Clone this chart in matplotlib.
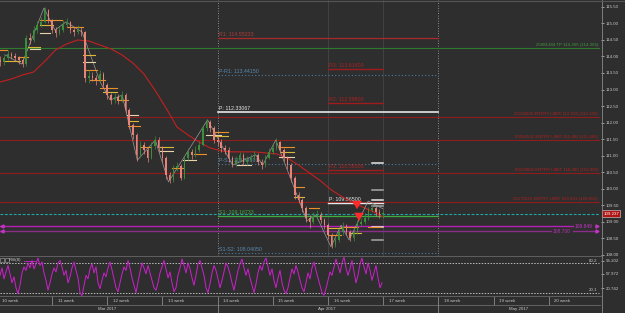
import numpy as np
import matplotlib
matplotlib.use('Agg')
import matplotlib.pyplot as plt
from matplotlib.lines import Line2D

# ---------------- data ----------------
opens = [113.90,113.83,113.95,114.08,114.02,113.95,113.89,113.77,114.56,114.50,
         114.80,114.95,115.05,115.41,115.11,114.80,114.71,114.80,114.95,115.05,
         114.80,114.74,114.80,114.74,113.35,113.41,113.35,113.29,113.47,113.14,
         112.83,112.68,112.77,112.68,112.83,112.38,111.92,111.62,111.02,111.32,
         111.17,110.92,111.29,111.47,111.23,110.92,110.41,110.26,110.62,110.68,
         110.32,110.92,111.11,111.02,111.17,111.32,111.83,112.02,111.83,111.47,
         111.41,111.23,111.17,110.92,110.74,110.86,111.02,110.80,110.86,110.92,
         111.02,110.80,110.71,110.92,111.11,111.23,111.41,111.17,110.92,110.71,
         110.32,109.80,109.65,109.41,109.11,108.99,109.17,109.20,109.05,108.89,
         108.59,108.29,108.44,108.68,108.86,108.68,108.50,108.68,108.93,108.99,
         109.11,109.35,109.41,109.29,109.23]
closes = [113.83,113.95,114.08,114.02,113.95,113.89,113.77,114.56,114.50,114.80,
          114.95,115.05,115.41,115.11,114.80,114.71,114.80,114.95,115.05,114.80,
          114.74,114.80,114.74,113.35,113.41,113.35,113.29,113.47,113.14,112.83,
          112.68,112.77,112.68,112.83,112.38,111.92,111.62,111.02,111.32,111.17,
          110.92,111.29,111.47,111.23,110.92,110.41,110.26,110.62,110.68,110.32,
          110.92,111.11,111.02,111.17,111.32,111.83,112.02,111.83,111.47,111.41,
          111.23,111.17,110.92,110.74,110.86,111.02,110.80,110.86,110.92,111.02,
          110.80,110.71,110.92,111.11,111.23,111.41,111.17,110.92,110.71,110.32,
          109.80,109.65,109.41,109.11,108.99,109.17,109.20,109.05,108.89,108.59,
          108.29,108.44,108.68,108.86,108.68,108.50,108.68,108.93,108.99,109.11,
          109.35,109.41,109.29,109.23,109.24]
highs = [114.00,114.05,114.20,114.15,114.10,114.02,113.95,114.65,114.70,114.92,
         115.08,115.20,115.50,115.45,115.15,114.90,114.92,115.10,115.18,115.08,
         114.90,114.95,114.88,114.78,113.58,113.52,113.45,113.60,113.52,113.20,
         112.90,112.88,112.85,112.95,112.90,112.45,112.00,111.68,111.45,111.40,
         111.25,111.40,111.60,111.55,111.30,110.98,110.50,110.72,110.80,110.75,
         111.00,111.22,111.20,111.30,111.45,111.92,112.10,112.08,111.90,111.58,
         111.50,111.32,111.25,111.00,110.98,111.12,111.08,111.00,111.05,111.15,
         111.08,110.88,111.02,111.22,111.35,111.52,111.45,111.22,110.98,110.78,
         110.38,109.88,109.72,109.48,109.20,109.30,109.35,109.28,109.12,108.95,
         108.65,108.55,108.80,108.98,108.92,108.75,108.80,109.05,109.12,109.25,
         109.45,109.52,109.48,109.38,109.35]
lows = [113.72,113.75,113.90,113.92,113.85,113.78,113.68,113.72,114.38,114.45,
        114.72,114.88,115.00,115.02,114.70,114.60,114.65,114.75,114.90,114.70,
        114.62,114.68,114.62,113.22,113.20,113.25,113.15,113.22,113.05,112.72,
        112.55,112.60,112.55,112.62,112.28,111.80,111.50,110.82,110.95,111.05,
        110.80,110.88,111.20,111.10,110.80,110.30,110.17,110.20,110.52,110.25,
        110.28,110.85,110.90,110.95,111.10,111.28,111.75,111.70,111.38,111.30,
        111.12,111.05,110.80,110.65,110.68,110.80,110.70,110.72,110.80,110.85,
        110.70,110.60,110.65,110.88,111.05,111.18,111.08,110.82,110.60,110.20,
        109.68,109.55,109.30,108.98,108.80,108.92,109.08,108.95,108.78,108.48,
        108.20,108.22,108.38,108.60,108.58,108.40,108.42,108.62,108.85,108.92,
        109.05,109.28,109.18,109.12,109.10]

ma_values = [113.23,113.32,113.44,113.53,113.85,114.20,114.38,114.50,114.47,114.35,
             114.23,114.05,113.80,113.47,112.98,112.44,111.86,111.62,111.41,111.23,
             111.14,111.11,111.11,111.11,111.08,111.05,110.92,110.71,110.47,110.23,
             109.95,109.74,109.56,109.41,109.26,109.14]

zz_days = [0.73,2.27,4.27,5.27,6.27,7.73,9.36,10.27,11.36,12.73,14.36,15.55,16.91,
           19.09,21.36,23.45,24.09,25.27,28.09,28.91,30.27,31.18,31.91,33.64,35.0]
zz_prices = [114.05,113.77,115.47,114.80,115.05,114.74,113.23,112.68,112.83,110.86,
             111.47,110.20,110.92,112.08,110.71,111.02,110.71,111.47,109.02,109.20,
             108.23,108.89,108.44,109.62,109.38]

seg_start = [3.91,3.91,3.91,6.36,7.82,7.82,8.0,8.45,9.36,9.64,10.91,11.82,11.91,11.91,
             2.82,3.0,0.29,0.73,1.91,14.82,14.82,13.0,15.91,16.91,17.82,18.91,19.64,
             19.64,25.73,25.73,25.55,26.91,26.91,28.27,30.0,30.0,31.18,31.91,33.64,21.73]
seg_end = [5.91,5.09,4.82,7.82,8.91,8.91,9.09,9.82,10.91,10.91,11.91,12.82,12.82,13.0,
           3.91,3.91,0.91,2.09,2.82,16.0,16.0,13.91,16.91,18.0,18.91,20.27,20.91,
           20.91,26.91,26.91,26.91,27.82,27.82,29.18,31.18,31.18,32.73,33.0,34.82,23.0]
seg_price = [115.11,114.95,114.71,114.89,114.05,113.83,113.59,113.29,113.05,112.92,
             112.68,112.23,112.05,111.89,114.29,114.23,114.20,113.86,113.98,111.26,
             111.14,111.26,110.62,110.86,111.05,111.62,111.71,111.59,111.26,111.11,
             110.96,110.05,109.74,109.41,108.80,108.59,108.83,108.65,108.83,110.71]
seg_kind = ['o','y','l','o','y','l','o','o','o','y','o','l','y','o','y','l','o','y','o',
            'y','l','o','o','l','o','l','o','y','o','y','l','o','y','o','y','o','o','y','o','l']

weekly_ticks = [110.77, 109.95, 109.65, 109.47, 108.83, 108.44]

order_prices = [114.265, 112.165, 111.482, 110.485, 109.601]
order_labels = ['25081384 TP 114.265 (114.265)',
                '25135525 ENTRY LIMIT 112.165 (112.165)',
                '50352531 ENTRY LIMIT 111.482 (111.482)',
                '50338505 ENTRY LIMIT 110.485 (110.485)',
                '25170521 ENTRY LIMIT 109.601 (109.601)']

month_pivots = {'R1': 114.55233, 'P-R1': 113.44150, 'P': 112.33067,
                'P-S1': 110.74900, 'S1': 109.16733, 'S1-S2': 108.04050}
week_pivots = {'R3': 113.61400, 'R2': 112.59800, 'R1': 110.56500, 'P': 109.56500}

current_price = 109.237
line_a = 108.849
line_b = 108.700

rsi = [55,70,48,62,75,58,40,52,30,18,
       35,60,72,65,80,70,85,68,78,90,
       75,82,60,45,25,40,58,70,62,80,
       85,72,55,65,40,52,70,82,65,50,
       20,14,35,55,48,68,78,60,72,40,
       28,45,60,52,70,82,66,48,30,22,
       40,58,72,65,85,70,50,35,20,42,
       62,80,70,58,75,60,45,30,25,40,
       60,72,85,68,50,62,40,22,30,55,
       70,88,75,60,80,68,50,35,55,78,
       85,70,55,30,20,38,60,75,65,48,
       30,45,62,80,72,58,40,25,45,65,
       78,88,70,55,68,50,35,20,38,60,
       75,65,82,90,72,55,68,45,30,50,
       65,40,25,18,30,50,68,58,75,62,
       45,30,22,40,60,48,70,82,65,50,
       35,20,15,28,45,62,55,72,88,75,
       60,80,92,70,55,68,85,62,40,55,
       78,90,72,58,80,65,45,60,75,50,30,40]

week_numbers = list(range(10, 21))
month_labels = ['Mar 2017', 'Apr 2017', 'May 2017']

# ---------------- figure ----------------
W, H = 625, 313
BG = '#2e2e2e'
TXT = '#c8c8c8'
plt.rcParams['font.family'] = ['Liberation Sans', 'DejaVu Sans']
fig = plt.figure(figsize=(6.25, 3.13), dpi=100)
fig.patch.set_facecolor(BG)

PXD = 11.04
OFF = -3.2
def d_of(px):
    return (px - OFF) / PXD

def frect(x0, y0, x1, y1):
    return [x0 / W, 1 - y1 / H, (x1 - x0) / W, (y1 - y0) / H]

XL = (d_of(0), d_of(601))
XR = d_of(599)

ax = fig.add_axes(frect(0, 0, 601, 255.5))
ax.set_facecolor(BG)
ax.set_xlim(*XL)
ax.set_ylim(107.97, 115.712)
for s in ax.spines.values():
    s.set_visible(False)
ax.set_xticks([])
ax.yaxis.tick_right()
yt = np.arange(108.0, 115.51, 0.5)
ax.set_yticks(yt)
ax.set_yticklabels([f'{v:.2f}' for v in yt])
ax.tick_params(axis='y', colors=TXT, labelsize=3.2, length=2, width=0.5, pad=1.2)

# vertical guides
for dv in (30, 35):
    ax.axvline(dv, color='#454545', lw=0.6, zorder=0)
for dv in (20, 40):
    ax.axvline(dv, color='#aaaaaa', lw=0.6, ls=(0, (1, 2)), zorder=1)

# order lines
ord_cols = ['#2f7a2f', '#8e1c1c', '#8e1c1c', '#8e1c1c', '#8e1c1c']
lab_cols = ['#3f9a3f', '#b02020', '#b02020', '#b02020', '#b02020']
for p, lab, c, lc in zip(order_prices, order_labels, ord_cols, lab_cols):
    ax.plot([XL[0], XR], [p, p], color=c, lw=0.8, zorder=1)
    ax.text(d_of(598), p + 0.02, lab, color=lc, fontsize=3.2, ha='right', va='bottom', zorder=2)

# current price
ax.plot([XL[0], XR], [current_price] * 2, color='#22a5a5', lw=0.8, ls=(0, (2.5, 1.5)), zorder=2)
ax.text(1.004, current_price, f'{current_price:.3f}', transform=ax.get_yaxis_transform(),
        color='white', fontsize=3.2, ha='left', va='center', clip_on=False,
        bbox=dict(boxstyle='square,pad=0.3', fc='#b01515', ec='#dddddd', lw=0.4))

# magenta lines
ax.plot([XL[0], d_of(573)], [line_a] * 2, color='#b51fb5', lw=1.0, zorder=2)
ax.text(d_of(584), line_a, f'{line_a:.3f}', color='#c533c5', fontsize=3.5, ha='center', va='center')
ax.plot([XL[0], d_of(551)], [line_b] * 2, color='#8b2e8b', lw=1.0, zorder=2)
ax.plot([d_of(573), d_of(595)], [line_b] * 2, color='#8b2e8b', lw=1.0, zorder=2)
ax.text(d_of(562), line_b, f'{line_b:.3f}', color='#b533b5', fontsize=3.5, ha='center', va='center')
ax.plot([d_of(597)] * 2, [line_a, line_b], ls='none', marker='>', ms=2.2, color='#c533c5')
ax.plot([d_of(2)] * 2, [line_a, line_b], ls='none', marker='<', ms=2.2, color='#c533c5')

# monthly pivots
mp_style = {'R1': ('#a82a2a', '-', 0.9), 'P-R1': ('#4c7da0', (0, (1, 2)), 0.8),
            'P': ('#e6e6e6', '-', 1.2), 'P-S1': ('#4c7da0', (0, (1, 2)), 0.8),
            'S1': ('#3fae3f', '-', 0.9), 'S1-S2': ('#4c7da0', (0, (1, 2)), 0.8)}
mp_lab = {'R1': '#b03a3a', 'P-R1': '#5a8ab0', 'P': '#e6e6e6', 'P-S1': '#5a8ab0',
          'S1': '#3fae3f', 'S1-S2': '#5a8ab0'}
for k, v in month_pivots.items():
    c, ls, lw = mp_style[k]
    ax.plot([20, 40], [v, v], color=c, ls=ls, lw=lw, zorder=2)
    ax.text(20.1, v + 0.03, f'{k}: {v:.5f}', color=mp_lab[k], fontsize=3.8, ha='left', va='bottom', zorder=2)

# weekly pivots
for k, v in week_pivots.items():
    c = '#e6e6e6' if k == 'P' else '#a01c1c'
    ax.plot([30, 35], [v, v], color=c, lw=1.0, zorder=2)
    ax.text(30.1, v + 0.03, f'{k}: {v:.5f}', color=('#e6e6e6' if k == 'P' else '#b02020'),
            fontsize=3.8, ha='left', va='bottom', zorder=2)
for i, v in enumerate(weekly_ticks):
    ax.plot([34.0, 35.0], [v, v], color=('#e8e8e8' if i % 2 == 0 else '#a8a8a8'), lw=1.1, zorder=3)

# moving average and zigzag
bar_x = 0.33 + np.arange(len(closes)) / 3.0
ma_idx = list(range(0, len(closes), 3)) + [len(closes) - 1]
ax.plot(bar_x[ma_idx], ma_values, color='#c42020', lw=0.8, zorder=3)
ax.plot(zz_days, zz_prices, color='#9a9a9a', lw=0.5, zorder=4)

# fractal level segments
kc = {'o': '#e8902a', 'y': '#d8b838', 'l': '#ead2aa'}
for a, b, p, k in zip(seg_start, seg_end, seg_price, seg_kind):
    ax.plot([a, b], [p, p], color=kc[k], lw=0.8, zorder=5)

# candles
o = np.array(opens); c = np.array(closes); hi = np.array(highs); lo = np.array(lows)
up = c >= o
cols = np.where(up, '#3a8f3a', '#e8837a')
ax.vlines(bar_x, lo, hi, colors=cols, lw=0.5, zorder=6)
ax.bar(bar_x, np.maximum(np.abs(c - o), 0.02), bottom=np.minimum(o, c), width=0.14,
       color=cols, lw=0, zorder=6)

# red arrows
for x0, p0, p1 in ((32.63, 109.50, 109.29), (32.81, 109.20, 108.93)):
    ax.annotate('', xy=(x0, p1), xytext=(x0, p0),
                arrowprops=dict(arrowstyle='simple,head_width=0.7,head_length=0.6,tail_width=0.3',
                                color='#ff2a2a', lw=0), zorder=7)

# ---------------- indicator ----------------
axi = fig.add_axes(frect(0, 256, 601, 296))
axi.set_facecolor(BG)
axi.set_xlim(*XL)
axi.set_ylim(13.3, 94.1)
for s in axi.spines.values():
    s.set_visible(False)
axi.set_xticks([])
axi.yaxis.tick_right()
axi.set_yticks([84.0, 57.8, 28.5])
axi.set_yticklabels(['95.202', '57.972', '20.742'])
axi.tick_params(axis='y', colors=TXT, labelsize=3.2, length=2, width=0.5, pad=1.2)
for lv, lab in ((80, '80.2'), (20, '20.1')):
    axi.plot([XL[0], XR], [lv, lv], color='#bdbdbd', lw=0.7, ls=(0, (1.5, 1.5)))
    axi.text(d_of(597), lv + 0.5, lab, color=TXT, fontsize=3.2, ha='right', va='bottom')
rsi_x = d_of(0) + np.arange(len(rsi)) * 2 / PXD
axi.plot(rsi_x, rsi, color='#cf1fcf', lw=0.7)
axi.text(9 / 601, 0.9, 'RSI(8)', transform=axi.transAxes, color=TXT, fontsize=3.2, va='center')
axi.plot([2 / 601, 7 / 601], [0.9, 0.9], transform=axi.transAxes, ls='none', marker='s',
         ms=2.5, mfc='none', mec='#aaaaaa', mew=0.4)
axi.plot([24 / 601, 35 / 601], [0.88, 0.88], transform=axi.transAxes, color='#cf1fcf', lw=0.6)

# ---------------- date strip ----------------
axd = fig.add_axes(frect(0, 296, 601, 313))
axd.set_facecolor(BG)
axd.set_xlim(*XL)
axd.set_ylim(0, 17)
axd.axis('off')
for n in week_numbers:
    x0 = 5 * (n - 10)
    if n > 10:
        axd.plot([x0, x0], [8, 17], color='#8a8a8a', lw=0.6)
    axd.text(x0 + 0.5, 12.5, f'{n} week', color=TXT, fontsize=3.2, ha='left', va='center')
axd.plot([XL[0], XL[1]], [8, 8], color='#6a6a6a', lw=0.6)
for x0 in (20, 40):
    axd.plot([x0, x0], [0, 8], color='#8a8a8a', lw=0.6)
for lab, px in zip(month_labels, (107, 327, 519)):
    axd.text(d_of(px), 4, lab, color=TXT, fontsize=3.2, ha='center', va='center')

# frame lines
for y in (255.8, 296.2):
    fig.add_artist(Line2D([0, 601 / W], [1 - y / H] * 2, color='#606060', lw=0.7))
fig.add_artist(Line2D([601.5 / W] * 2, [0, 1], color='#8a8a8a', lw=0.6))
fig.add_artist(Line2D([0, 1], [1 - 0.5 / H] * 2, color='#555555', lw=0.8))

fig.savefig('out.png', dpi=100, facecolor=BG)
